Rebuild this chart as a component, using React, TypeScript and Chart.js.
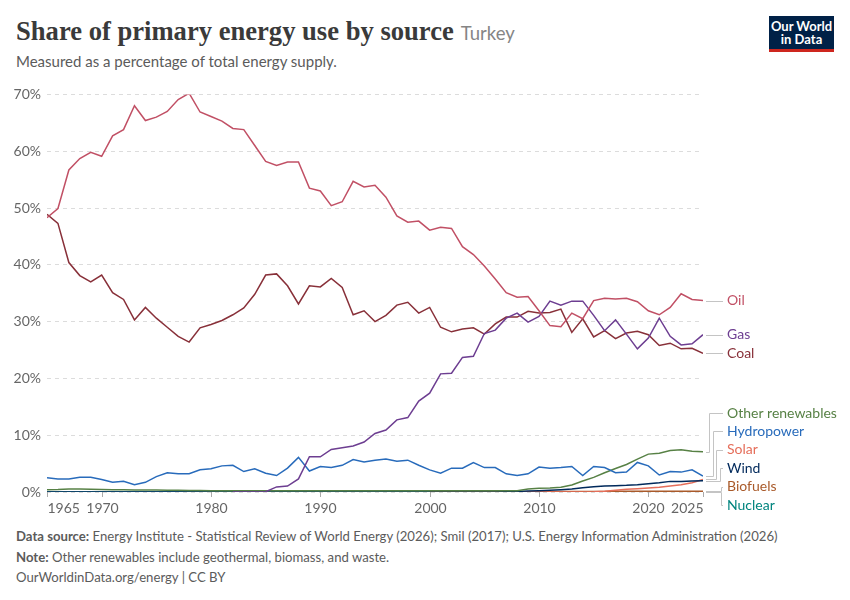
import React, { useEffect, useRef } from "react";
import { Chart, registerables } from "chart.js";

Chart.register(...registerables);

// ---------- DATA ----------
const xMin = 1965;
const xMax = 2025;
const xTickYears = [1965, 1970, 1980, 1990, 2000, 2010, 2020, 2025];
const yTickValues = [0, 10, 20, 30, 40, 50, 60, 70];

const oilFrom = 1965;
const oil = [
  48.3, 49.9, 56.7, 58.7, 59.8, 59.1, 62.7, 63.8, 68.0, 65.4,
  66.0, 67.0, 69.1, 70.2, 66.9, 66.1, 65.3, 64.0, 63.8, 61.0,
  58.2, 57.5, 58.1, 58.1, 53.5, 53.0, 50.4, 51.1, 54.7, 53.7,
  54.0, 51.9, 48.6, 47.5, 47.7, 46.1, 46.6, 46.4, 43.2, 41.8,
  39.8, 37.5, 35.1, 34.3, 34.4, 31.9, 29.3, 29.1, 31.5, 30.5,
  33.7, 34.1, 34.0, 34.1, 33.5, 31.9, 31.2, 32.5, 34.9, 33.9,
  33.7,
];

const gasFrom = 1982;
const gas = [
  0, 0, 0, 0.05, 0.9, 1.05, 2.3, 6.2, 6.2, 7.5, 7.8, 8.1, 8.8,
  10.3, 10.9, 12.7, 13.1, 16.0, 17.4, 20.8, 20.9, 23.7, 23.9,
  27.9, 28.5, 30.6, 31.5, 29.9, 30.9, 33.6, 32.9, 33.6, 33.6,
  31.1, 28.4, 30.3, 27.8, 25.2, 27.1, 30.6, 27.4, 25.9, 26.1,
  27.7,
];

const coalFrom = 1965;
const coal = [
  48.9, 47.3, 40.4, 38.1, 37.0, 38.2, 35.1, 33.9, 30.3, 32.5,
  30.6, 29.0, 27.4, 26.4, 28.9, 29.5, 30.2, 31.2, 32.4, 34.8,
  38.2, 38.4, 36.3, 33.1, 36.3, 36.1, 37.6, 36.0, 31.2, 31.9,
  30.0, 31.1, 32.9, 33.4, 31.5, 32.5, 29.0, 28.2, 28.7, 28.9,
  27.8, 29.6, 30.8, 30.8, 31.8, 31.5, 31.6, 32.2, 28.1, 30.5,
  27.3, 28.4, 27.0, 28.0, 28.3, 27.7, 25.8, 26.2, 25.2, 25.3,
  24.4,
];

const hydroFrom = 1965;
const hydro = [
  2.5, 2.3, 2.3, 2.6, 2.6, 2.2, 1.7, 1.9, 1.3, 1.7,
  2.7, 3.4, 3.2, 3.2, 3.9, 4.1, 4.6, 4.7, 3.6, 4.1,
  3.3, 2.9, 4.2, 6.1, 3.7, 4.5, 4.3, 4.7, 5.7, 5.3,
  5.6, 5.8, 5.4, 5.6, 4.7, 3.9, 3.3, 4.2, 4.2, 5.2,
  4.3, 4.3, 3.2, 2.9, 3.2, 4.4, 4.2, 4.3, 4.5, 2.9,
  4.5, 4.3, 3.4, 3.5, 5.2, 4.6, 3.0, 3.6, 3.5, 3.9,
  2.8,
];

const otherFrom = 1965;
const otherRenewables = [
  0.4, 0.45, 0.55, 0.55, 0.5, 0.45, 0.4, 0.4, 0.35, 0.35,
  0.35, 0.3, 0.3, 0.25, 0.25, 0.2, 0.2, 0.2, 0.2, 0.2,
  0.2, 0.2, 0.2, 0.2, 0.2, 0.2, 0.2, 0.2, 0.2, 0.2,
  0.2, 0.2, 0.2, 0.2, 0.2, 0.2, 0.2, 0.2, 0.2, 0.2,
  0.2, 0.2, 0.2, 0.23, 0.53, 0.64, 0.7, 0.82, 1.23, 1.93,
  2.57, 3.39, 4.15, 4.85, 5.79, 6.67, 6.84, 7.3, 7.43, 7.19,
  7.08,
];

const windFrom = 1965;
const wind = [
  0, 0, 0, 0, 0, 0, 0, 0, 0, 0,
  0, 0, 0, 0, 0, 0, 0, 0, 0, 0,
  0, 0, 0, 0, 0, 0, 0, 0, 0, 0,
  0, 0, 0, 0, 0, 0, 0, 0, 0, 0,
  0, 0.02, 0.05, 0.1, 0.18, 0.23, 0.32, 0.41, 0.53, 0.76,
  0.94, 1.05, 1.11, 1.17, 1.29, 1.46, 1.64, 1.87, 1.87, 1.93,
  1.99,
];

const solarFrom = 2000;
const solar = [
  0, 0, 0, 0, 0, 0, 0, 0, 0, 0, 0, 0, 0, 0,
  0.02, 0.05, 0.15, 0.3, 0.47, 0.58, 0.7, 0.82, 1.05, 1.29, 1.64, 2.22,
];

const biofuelsFrom = 2000;
const biofuels = [
  0, 0, 0, 0, 0, 0, 0, 0, 0,
  0.03, 0.05, 0.05, 0.08, 0.1, 0.1, 0.1, 0.1, 0.12, 0.12,
  0.12, 0.12, 0.12, 0.12, 0.12, 0.12, 0.12,
];

const nuclearFrom = 1965;
const nuclear = [
  0, 0, 0, 0, 0, 0, 0, 0, 0, 0,
  0, 0, 0, 0, 0, 0, 0, 0, 0, 0,
  0, 0, 0, 0, 0, 0, 0, 0, 0, 0,
  0, 0, 0, 0, 0, 0, 0, 0, 0, 0,
  0, 0, 0, 0, 0, 0, 0, 0, 0, 0,
  0, 0, 0, 0, 0, 0, 0, 0, 0, 0,
  0,
];

// ---------- STYLE ----------
const FONT = "Lato, 'Noto Sans', sans-serif";

const seriesDefs = [
  { label: "Oil", from: oilFrom, values: oil, color: "#c15065" },
  { label: "Gas", from: gasFrom, values: gas, color: "#6d3e91" },
  { label: "Coal", from: coalFrom, values: coal, color: "#883039" },
  { label: "Hydropower", from: hydroFrom, values: hydro, color: "#286bbb" },
  { label: "Other renewables", from: otherFrom, values: otherRenewables, color: "#578145" },
  { label: "Wind", from: windFrom, values: wind, color: "#00295b" },
  { label: "Solar", from: solarFrom, values: solar, color: "#e56e5a" },
  { label: "Biofuels", from: biofuelsFrom, values: biofuels, color: "#a95a2a" },
  { label: "Nuclear", from: nuclearFrom, values: nuclear, color: "#00847e" },
];

const overlayPlugin = {
  id: "owidOverlay",
  afterDatasetsDraw(chart: any) {
    const ctx = chart.ctx;
    const area = chart.chartArea;
    const xs = chart.scales.x;

    // x ticks and labels
    ctx.save();
    ctx.font = `14px ${FONT}`;
    ctx.fillStyle = "#666666";
    ctx.textBaseline = "middle";
    ctx.strokeStyle = "#aaaaaa";
    ctx.lineWidth = 1;
    xTickYears.forEach((yr, i) => {
      const px = Math.round(xs.getPixelForValue(yr)) + 0.5;
      ctx.beginPath();
      ctx.moveTo(px, area.bottom);
      ctx.lineTo(px, area.bottom + 5);
      ctx.stroke();
      let align = "center";
      if (i === 0) align = "left";
      if (i === xTickYears.length - 1) align = "right";
      ctx.textAlign = align;
      ctx.fillText(String(yr), px, area.bottom + 16);
    });
    ctx.restore();

    // end labels
    const items = chart.data.datasets
      .map((ds: any, i: number) => {
        const meta = chart.getDatasetMeta(i);
        const pt = meta.data[meta.data.length - 1];
        return { label: ds.label, color: ds.borderColor, x: pt.x, y: pt.y, ly: pt.y };
      })
      .sort((a: any, b: any) => a.y - b.y);
    const gap = 18.4;
    for (let i = 1; i < items.length; i++) {
      items[i].ly = Math.max(items[i].ly, items[i - 1].ly + gap);
    }
    const maxY = area.bottom + 13;
    items[items.length - 1].ly = Math.min(items[items.length - 1].ly, maxY);
    for (let i = items.length - 2; i >= 0; i--) {
      items[i].ly = Math.min(items[i].ly, items[i + 1].ly - gap);
    }

    ctx.save();
    let bendIdx = 0;
    items.forEach((it: any) => {
      const x0 = it.x + 3;
      const x1 = it.x + 20;
      const lx = it.x + 24;
      ctx.strokeStyle = "#c4c4c4";
      ctx.lineWidth = 1;
      ctx.beginPath();
      if (Math.abs(it.ly - it.y) < 1) {
        const yy = Math.round(it.ly) + 0.5;
        ctx.moveTo(x0, yy);
        ctx.lineTo(x1, yy);
      } else {
        const bx = Math.round(Math.min(x0 + 3 + bendIdx * 3.5, x1 - 2)) + 0.5;
        bendIdx++;
        const y0 = Math.round(it.y) + 0.5;
        const y1 = Math.round(it.ly) + 0.5;
        ctx.moveTo(x0, y0);
        ctx.lineTo(bx, y0);
        ctx.lineTo(bx, y1);
        ctx.lineTo(x1, y1);
      }
      ctx.stroke();
      ctx.fillStyle = it.color;
      ctx.font = `14px ${FONT}`;
      ctx.textBaseline = "middle";
      ctx.textAlign = "left";
      ctx.fillText(it.label, lx, it.ly);
    });
    ctx.restore();
  },
};

function ChartCanvas() {
  const ref = useRef<HTMLCanvasElement | null>(null);
  useEffect(() => {
    if (!ref.current) return;
    const datasets = seriesDefs.map((s) => ({
      label: s.label,
      data: s.values.map((v, i) => ({ x: s.from + i, y: v })),
      borderColor: s.color,
      backgroundColor: s.color,
      borderWidth: 1.5,
      pointRadius: 0,
      tension: 0,
      fill: false,
    }));
    const chart = new Chart(ref.current, {
      type: "line",
      data: { datasets },
      options: {
        animation: false,
        responsive: false,
        maintainAspectRatio: false,
        layout: { padding: { left: 0, right: 147, top: 13, bottom: 0 } },
        plugins: {
          legend: { display: false },
          tooltip: { enabled: false },
        },
        scales: {
          x: {
            type: "linear",
            min: xMin,
            max: xMax,
            afterBuildTicks: (scale: any) => {
              scale.ticks = xTickYears.map((v) => ({ value: v }));
            },
            afterFit: (scale: any) => {
              scale.height = 28;
            },
            ticks: { display: false },
            grid: { display: false },
            border: { display: false },
          },
          y: {
            min: 0,
            max: 70,
            afterBuildTicks: (scale: any) => {
              scale.ticks = yTickValues.map((v) => ({ value: v }));
            },
            afterFit: (scale: any) => {
              scale.width = 47;
            },
            ticks: {
              callback: (v: any) => `${v}%`,
              color: "#666666",
              font: { family: FONT, size: 14 },
              padding: 6,
            },
            grid: { color: "#dcdcdc", drawTicks: false, lineWidth: 1 },
            border: { display: false, dash: [4, 4] },
          },
        },
      },
      plugins: [overlayPlugin],
    } as any);
    return () => chart.destroy();
  }, []);
  return (
    <canvas
      ref={ref}
      width={850}
      height={440}
      style={{ position: "absolute", left: 0, top: 80, width: 850, height: 440 }}
    />
  );
}

export default function App() {
  const grey = "#5b5b5b";
  return (
    <div
      style={{
        position: "absolute",
        left: 0,
        top: 0,
        width: 850,
        height: 600,
        background: "#ffffff",
        overflow: "hidden",
        fontFamily: FONT,
      }}
    >
      <div
        style={{
          position: "absolute",
          left: 16,
          top: 14,
          whiteSpace: "nowrap",
          lineHeight: "34px",
        }}
      >
        <span
          style={{
            fontFamily: "'Liberation Serif', 'DejaVu Serif', serif",
            fontWeight: 700,
            fontSize: 26.6,
            color: "#3a3a3a",
          }}
        >
          Share of primary energy use by source
        </span>
        <span style={{ fontFamily: FONT, fontSize: 18.5, color: "#858585", marginLeft: 7 }}>
          Turkey
        </span>
      </div>
      <div
        style={{
          position: "absolute",
          left: 16,
          top: 51,
          fontSize: 15,
          color: grey,
          whiteSpace: "nowrap",
          lineHeight: "20px",
        }}
      >
        Measured as a percentage of total energy supply.
      </div>

      <div
        style={{
          position: "absolute",
          left: 769,
          top: 16,
          width: 65,
          height: 33,
          background: "#002147",
          color: "#ffffff",
          textAlign: "center",
          fontSize: 13,
          fontWeight: 700,
          lineHeight: "13px",
          paddingTop: 4,
          boxSizing: "border-box",
        }}
      >
        Our World
        <br />
        in Data
      </div>
      <div
        style={{
          position: "absolute",
          left: 769,
          top: 49,
          width: 65,
          height: 3,
          background: "#ce261e",
        }}
      />

      <ChartCanvas />

      <div
        style={{
          position: "absolute",
          left: 16,
          top: 526,
          fontSize: 13.15,
          color: grey,
          whiteSpace: "nowrap",
          lineHeight: "20.5px",
        }}
      >
        <div>
          <b>Data source:</b> Energy Institute - Statistical Review of World Energy (2026); Smil (2017); U.S. Energy Information Administration (2026)
        </div>
        <div>
          <b>Note:</b> Other renewables include geothermal, biomass, and waste.
        </div>
        <div>OurWorldinData.org/energy | CC BY</div>
      </div>
    </div>
  );
}
